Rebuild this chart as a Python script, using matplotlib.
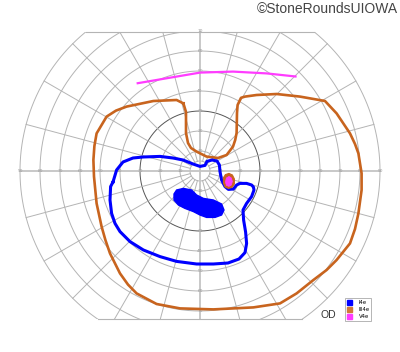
import numpy as np
import matplotlib
matplotlib.use("Agg")
import matplotlib.pyplot as plt
from matplotlib.patches import Rectangle, Patch

# isopters, in degrees of visual field (x = temporal/nasal, y = superior/inferior)
iii4e_x = [-8.3, -7, -7, -6, -4.5, -1.7, 3.3, 9, 13.3, 16.5, 17.6, 18.3, 18.5, 18.8, 20.5, 22.5, 28.3,
           38.3, 50, 62.5, 68.3, 75, 77.5, 79.2, 80.8, 80.8, 79.2, 77.5, 75, 68.3, 63.3, 56.7, 48.3, 40,
           26.7, 6.7, -10, -21.7, -31.7, -36, -40, -45, -47.3, -49.2, -51.7, -53, -53.3, -52.8, -51.7,
           -46.7, -42, -36.7, -23.3, -11.7, -8.3]
iii4e_y = [33.8, 29.5, 19, 14, 11.5, 9.7, 7.2, 6.5, 8, 12.2, 15.5, 19, 29, 33, 36.6, 37.2, 38,
           38.5, 37.2, 35, 28.8, 18.8, 13.5, 8.8, -1.2, -9.5, -21.2, -29, -36.2, -44.5, -49.5, -54.5, -61.2, -66.2,
           -68.2, -69.2, -68.7, -66.5, -61.2, -56.8, -51.2, -41.2, -34.5, -27.8, -16.2, -2.8, 5.5, 12.5, 18.8,
           27.2, 30.2, 32.2, 35, 35.5, 33.8]

i4e_x = [-43.5, -41.7, -38.5, -33.5, -28.5, -20, -13.5, -8.5, -3.5, 0, 2.5, 3.5, 6, 8.5, 9.7, 10,
         10.8, 12.5, 14.2, 16.7, 18.3, 20, 23.3, 25.8, 26.7, 27, 25.8, 23.3, 21.5, 21.8, 22.8, 23.3, 22.5,
         19.5, 14, 6.7, -1.7, -11.7, -20, -28.3, -35, -40, -42.5, -44.2, -45, -44.7, -43.5]
i4e_y = [-5.5, 0.5, 4.5, 6.5, 7, 7.3, 6.5, 5.5, 3.5, 2.3, 2.8, 4.8, 5.5, 5, 3, -0.3,
         -4.5, -7.8, -9.2, -9, -7, -6.2, -6.2, -7, -8, -9.5, -12.8, -16.2, -19.5, -24.5, -30.5, -36.2, -40.8,
         -44, -46, -46.5, -46.5, -45.2, -42.8, -39.5, -35.3, -30.3, -26.2, -21.2, -14.5, -7.8, -5.5]

# I4e scotoma
i4e_scot_x = [-11.7, -8.3, -4.2, -1.7, 1.7, 6.7, 10.8, 12, 10.8, 7.5, 3.3, 0, -3.3, -7.5, -10.8, -13, -13]
i4e_scot_y = [-9.5, -8.7, -9.5, -12, -13.7, -14.5, -16.5, -19.5, -22, -23.2, -23.2, -22, -20.3, -18.7, -17, -14.5, -11.5]

# III4e island and V4e island
iii4e_isl_x = [14.5, 16.2, 17.2, 17.2, 16, 14.2, 12.5, 11.7, 11.7, 12.7]
iii4e_isl_y = [-1.2, -2, -4, -6.5, -8.2, -8.7, -8, -6, -3.5, -1.8]
v4e_isl_x = [14.5, 15.7, 16.2, 15.7, 14.5, 13.2, 12.7, 13.2]
v4e_isl_y = [-2.7, -3.5, -5.2, -7, -7.7, -7.2, -5.5, -3.5]

# V4e open arc
v4e_x = [-31.7, -20, 0, 16.5, 33.3, 48.3]
v4e_y = [43.8, 45.8, 49.2, 49.7, 48.8, 47.2]

rings = [10, 20, 30, 40, 50, 60, 70, 80, 90]
h_labels = [10, 20, 30, 40, 50, 60, 70, 80, 90]
v_labels = [10, 20, 30, 40, 50, 60, 70]

blue = "#0000ff"
brown = "#c8641e"
magenta = "#ff3cff"

fig = plt.figure(figsize=(4, 3.52), dpi=100)
ax = fig.add_axes([0, 0, 1, 1])
ax.set_xlim(-100, 100)
ax.set_ylim(-90.5, 85.5)
ax.set_aspect("equal")
ax.axis("off")

top, bottom = 69.5, -74.2
clip = Rectangle((-95, bottom), 190, top - bottom, transform=ax.transData)

# --- chart grid ---
t = np.linspace(0, 2 * np.pi, 400)
for r in rings + [5]:
    col = "#555555" if r == 30 else "#b4b4b4"
    ln, = ax.plot(r * np.cos(t), r * np.sin(t), color=col, lw=0.7, zorder=1)
    ln.set_clip_path(clip)
for a in np.arange(0, 360, 15):
    if a % 90 == 0:
        continue
    rad = np.deg2rad(a)
    ln, = ax.plot([5 * np.cos(rad), 90 * np.cos(rad)], [5 * np.sin(rad), 90 * np.sin(rad)],
                  color="#b4b4b4", lw=0.7, zorder=1)
    ln.set_clip_path(clip)
ax.plot([-90, 90], [0, 0], color="#c4c4c4", lw=1.3, zorder=1)
ax.plot([0, 0], [bottom, top], color="#c4c4c4", lw=1.3, zorder=1)
xt = np.sqrt(90 ** 2 - top ** 2)
xb = np.sqrt(90 ** 2 - bottom ** 2)
ax.plot([-xt, xt], [top, top], color="#b4b4b4", lw=0.8, zorder=1)
ax.plot([-xb, xb], [bottom, bottom], color="#b4b4b4", lw=0.8, zorder=1)

for v in h_labels:
    for s in (-1, 1):
        ax.text(s * v, 0, str(v), fontsize=3.2, color="#999999", ha="center", va="center", zorder=2)
for v in v_labels:
    for s in (-1, 1):
        ax.text(0, s * v, str(v), fontsize=3.2, color="#999999", ha="center", va="center", zorder=2)

# --- isopters ---
ax.plot(iii4e_x, iii4e_y, color=brown, lw=1.9, solid_joinstyle="round", zorder=3)
ax.plot(i4e_x, i4e_y, color=blue, lw=2.2, solid_joinstyle="round", zorder=4)
ax.fill(i4e_scot_x, i4e_scot_y, facecolor=blue, edgecolor=blue, lw=1, zorder=5)
ax.fill(iii4e_isl_x, iii4e_isl_y, facecolor=brown, edgecolor=brown, lw=0.8, zorder=5)
ax.fill(v4e_isl_x, v4e_isl_y, facecolor=magenta, edgecolor=magenta, lw=0.5, zorder=6)
ax.plot(v4e_x, v4e_y, color=magenta, lw=1.6, solid_capstyle="butt", zorder=4)

# --- legend and labels ---
handles = [Patch(facecolor=blue, edgecolor=blue, label="I4e"),
           Patch(facecolor="#d07a38", edgecolor="#d07a38", label="III4e"),
           Patch(facecolor=magenta, edgecolor=magenta, label="V4e")]
leg = ax.legend(handles=handles, loc="lower left", bbox_to_anchor=(0.8625, 0.088),
                bbox_transform=fig.transFigure, borderaxespad=0, fontsize=3.8,
                handlelength=1.0, handleheight=1.0, handletextpad=1.2, labelspacing=0.35,
                borderpad=0.35, fancybox=False, framealpha=1, edgecolor="#aaaaaa")
leg.get_frame().set_linewidth(0.6)

fig.text(328 / 400, 1 - 315.5 / 352, "OD", fontsize=7.5, color="#333333", ha="center", va="center",
         family="Liberation Sans")
fig.text(398 / 400, 1 - 9 / 352, "\u00a9StoneRoundsUIOWA", fontsize=10, color="#444444",
         ha="right", va="center", family="Liberation Sans")

fig.savefig("out.png", dpi=100)
